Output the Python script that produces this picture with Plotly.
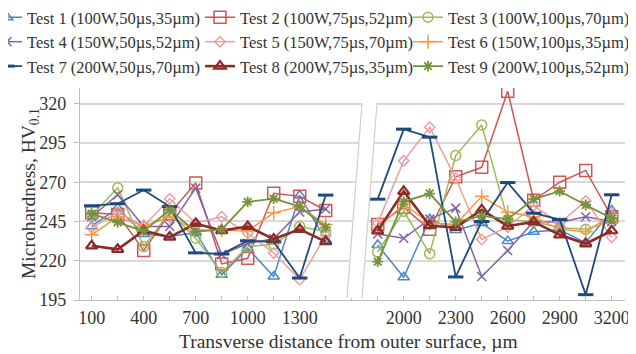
import plotly.graph_objects as go

# Distances (µm) of the measurement points; the broken axis skips 1450 -> 1850
distance_um = [100, 250, 400, 550, 700, 850, 1000, 1150, 1300, 1450,
               1850, 2000, 2150, 2300, 2450, 2600, 2750, 2900, 3050, 3200]

test_names = [
    "Test 1 (100W,50µs,35µm)", "Test 2 (100W,75µs,52µm)", "Test 3 (100W,100µs,70µm)",
    "Test 4 (150W,50µs,52µm)", "Test 5 (150W,75µs,70µm)", "Test 6 (150W,100µs,35µm)",
    "Test 7 (200W,50µs,70µm)", "Test 8 (200W,75µs,35µm)", "Test 9 (200W,100µs,52µm)",
]

test1 = [242, 253.5, 237, 235.5, 238, 211, 228, 210, 261.5, 233.3,
         230, 209.5, 246.5, 239.5, 244, 232.5, 238.5, 239.6, 231.5, 252]
test2 = [250.5, 249.5, 226.5, 250, 269.5, 218, 221.6, 263, 261, 252,
         243, 254, 240, 273.5, 279.5, 328, 258.5, 270, 277.5, 248]
test3 = [249, 266.5, 229, 251, 234.3, 212.5, 229, 230.5, 241.8, 238.6,
         225.5, 251.5, 224.5, 287, 306.5, 246, 245, 241, 240, 245]
test4 = [248, 262, 241.8, 241.8, 266.2, 224, 231, 234, 251, 253,
         237, 234.3, 246.5, 253.5, 210, 226.5, 245, 244.5, 248, 245]
test5 = [241, 251, 242, 259.5, 244, 248, 237.5, 225, 208, 236,
         244, 283.6, 305, 272.5, 233.5, 241.5, 255, 244, 258, 235]
test6 = [236.5, 248, 242, 248, 239.5, 239.6, 239, 250.5, 254.5, 243,
         241, 256, 244, 243, 261, 251, 248, 240, 238.5, 249]
test7 = [255, 256.3, 265, 254.5, 225, 224.3, 232.7, 232, 209, 261.8,
         259.2, 303.8, 298.7, 209.7, 245, 269.8, 250.3, 246.2, 198.4, 262]
test8 = [229.5, 227.3, 239.1, 235, 243.7, 239.2, 241.8, 233.8, 240, 232.2,
         239, 264.2, 242.3, 241.2, 252.4, 242.1, 244.7, 236.5, 230.8, 239.1]
test9 = [250, 244.5, 238.8, 252.4, 238.6, 239.8, 257.5, 259.5, 254.5, 241.2,
         219.4, 257.7, 262.8, 244.7, 248.6, 246.5, 259.3, 264.3, 255.5, 247]

series_values = [test1, test2, test3, test4, test5, test6, test7, test8, test9]

left_tickvals = [100, 250, 400, 550, 700, 850, 1000, 1150, 1300, 1450, 1600]
left_ticktext = ["100", "", "400", "", "700", "", "1000", "", "1300", "", ""]
right_tickvals = [1850, 2000, 2150, 2300, 2450, 2600, 2750, 2900, 3050, 3200]
right_ticktext = ["", "2000", "", "2300", "", "2600", "", "2900", "", "3200"]
y_tickvals = [195, 220, 245, 270, 295, 320]

# styles
colors = ["#4a86cc", "#cf5652", "#9bbb59", "#8064a2", "#e8a09e",
          "#f79646", "#1f497d", "#8c2a28", "#76923c"]
symbols = ["triangle-up-open", "square-open", "circle-open", "x-thin-open",
           "diamond-open", "cross-thin-open", "line-ew-open", "triangle-up-open",
           "asterisk-open"]
msizes = [10, 12, 10, 9, 8, 10, 11, 10, 9]
lwidths = [1.5, 1.5, 1.5, 1.5, 1.5, 1.5, 1.8, 2.6, 1.8]
mlw = [1.5, 1.5, 1.5, 1.5, 1.5, 1.5, 3, 2.2, 1.8]
legend_ids = ["legend", "legend2", "legend3"]

FONT = "Liberation Serif"
TXT = "#333333"

fig = go.Figure()
split = 10
for i, (name, vals) in enumerate(zip(test_names, series_values)):
    common = dict(mode="lines+markers",
                  line=dict(color=colors[i], width=lwidths[i]),
                  marker=dict(symbol=symbols[i], size=msizes[i], color=colors[i],
                              line=dict(color=colors[i], width=mlw[i])),
                  name=name)
    fig.add_trace(go.Scatter(x=distance_um[:split], y=vals[:split],
                             xaxis="x", yaxis="y", showlegend=True,
                             legend=legend_ids[i % 3], legendgroup=name, **common))
    fig.add_trace(go.Scatter(x=distance_um[split:], y=vals[split:],
                             xaxis="x2", yaxis="y2", showlegend=False,
                             legendgroup=name, **common))

# page (screenshot) geometry of the plot area; the page body adds an 8px offset
OFF = 8
L, R, T, B = 80, 625, 88, 300
W, H = 636 - OFF, 354 - OFF
pw, ph = R - L, B - T
xs = (362 - L) / pw

def px(x):
    return (x - L) / pw

def py(y):
    return (B - y) / ph

axis_common = dict(showline=True, linecolor="#bfbfbf", linewidth=1.2,
                   tickfont=dict(family=FONT, size=18, color=TXT), zeroline=False)

legend_common = dict(orientation="v", xref="paper", yref="paper",
                     xanchor="left", yanchor="top", tracegroupgap=0,
                     font=dict(family=FONT, size=16.5, color=TXT),
                     bgcolor="rgba(0,0,0,0)")

fig.update_layout(
    width=W, height=H,
    margin=dict(l=L - OFF, r=W - (R - OFF), t=T - OFF, b=H - (B - OFF), autoexpand=False),
    paper_bgcolor="white", plot_bgcolor="white",
    font=dict(family=FONT, color=TXT),
    xaxis=dict(domain=[0, xs], range=[32.5, 1659.4], anchor="y",
               tickvals=left_tickvals, ticktext=left_ticktext,
               ticks="inside", ticklen=4, tickcolor="#bfbfbf",
               showgrid=False, ticklabelstandoff=1, automargin=False, **axis_common),
    xaxis2=dict(domain=[xs, 1], range=[1759.4, 3276.7], anchor="y2",
                tickvals=right_tickvals, ticktext=right_ticktext,
                ticks="inside", ticklen=4, tickcolor="#bfbfbf",
                showgrid=False, ticklabelstandoff=1, automargin=False, **axis_common),
    yaxis=dict(range=[195, 330], anchor="x", tickvals=y_tickvals,
               ticks="outside", ticklen=5, tickcolor="#bfbfbf",
               showgrid=True, gridcolor="#d9d9d9", gridwidth=1.5,
               ticklabelstandoff=4, automargin=False, **axis_common),
    yaxis2=dict(range=[195, 330], anchor="x2", tickvals=y_tickvals,
                showticklabels=False, showline=False, ticks="",
                showgrid=True, gridcolor="#d9d9d9", gridwidth=1.5, zeroline=False),
    legend=dict(x=px(-13), y=py(0), **legend_common),
    legend2=dict(x=px(200), y=py(0), **legend_common),
    legend3=dict(x=px(408), y=py(0), **legend_common),
    showlegend=True,
)

# axis-break band
band = (f"M {px(362)} {py(103)} L {px(377)} {py(103)} "
        f"L {px(362)} {py(298)} L {px(347)} {py(298)} Z")
fig.add_shape(type="path", path=band, xref="paper", yref="paper",
              fillcolor="white", line=dict(width=0), layer="above")
for (x0, x1) in [(362, 347), (377, 362)]:
    fig.add_shape(type="line", xref="paper", yref="paper",
                  x0=px(x0), y0=py(103), x1=px(x1), y1=py(298),
                  line=dict(color="#d0d0d0", width=1.2), layer="above")

fig.add_annotation(text="Transverse distance from outer surface, µm",
                   xref="paper", yref="paper", x=px(348), y=py(341),
                   xanchor="center", yanchor="middle", showarrow=False,
                   font=dict(family=FONT, size=19.5, color=TXT))
fig.add_annotation(text="Microhardness, HV<sub>0.1</sub>",
                   xref="paper", yref="paper", x=px(30), y=py(194),
                   xanchor="center", yanchor="middle", textangle=-90,
                   showarrow=False, font=dict(family=FONT, size=19.5, color=TXT))

fig.write_html("out.html")
